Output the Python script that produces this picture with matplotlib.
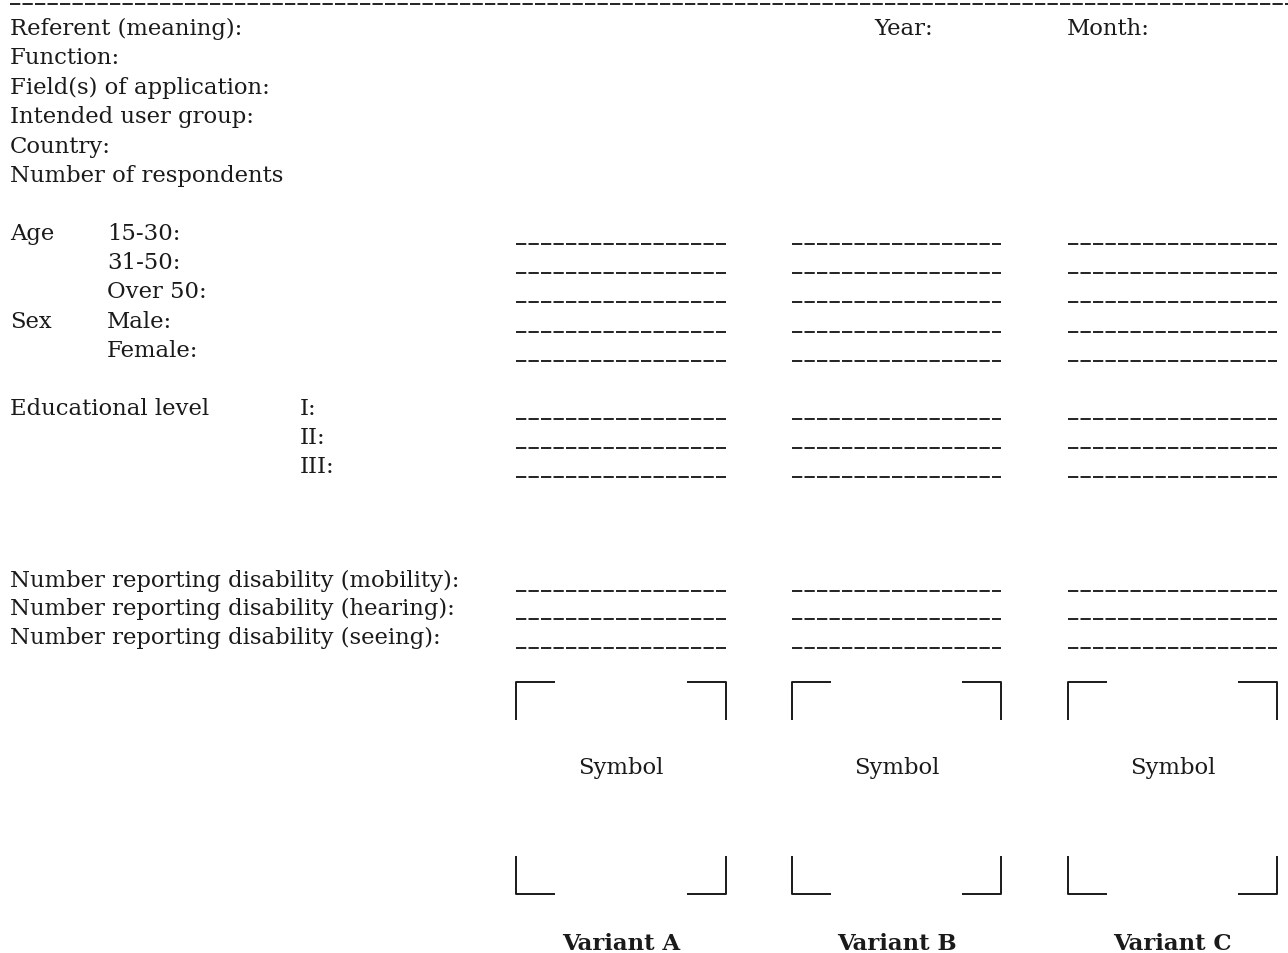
import matplotlib
matplotlib.use("Agg")
import matplotlib.pyplot as plt

plt.rcParams['lines.scale_dashes'] = False

FONT = 'DejaVu Serif'
FS = 16.4

header_labels = ["Referent (meaning):", "Function:", "Field(s) of application:",
                 "Intended user group:", "Country:", "Number of respondents"]
date_labels = ["Year:", "Month:"]
age_groups = ["15-30:", "31-50:", "Over 50:"]
sex_groups = ["Male:", "Female:"]
edu_levels = ["I:", "II:", "III:"]
disability_labels = ["Number reporting disability (mobility):",
                     "Number reporting disability (hearing):",
                     "Number reporting disability (seeing):"]
variants = ["Variant A", "Variant B", "Variant C"]
symbol_label = "Symbol"

W, H = 1288, 954
fig = plt.figure(figsize=(W / 100, H / 100), dpi=100)
ax = fig.add_axes([0, 0, 1, 1])
ax.set_xlim(0, W)
ax.set_ylim(H, 0)
ax.axis('off')

def txt(x, y, s, **kw):
    ax.text(x, y + 1, s, fontsize=kw.pop('fs', FS), family=FONT, va='center',
            ha=kw.pop('ha', 'left'), color='#1a1a1a', **kw)

def blank(x0, x1, y):
    ln, = ax.plot([x0, x1], [y, y], color='#222222', lw=1.4)
    ln.set_dashes((7.4, 1.6))

# top rule
blank(10, 1288, 5)

# header
for i, s in enumerate(header_labels):
    txt(10, 28 + i * 29.4, s)
txt(874, 28, date_labels[0])
txt(1067, 28, date_labels[1])

col_x = [(516, 726), (792, 1001), (1068, 1277)]

def blanks_row(y):
    for x0, x1 in col_x:
        blank(x0, x1, y + 12)

# Age / Sex
y_rows = [233, 262, 291, 321, 350]
txt(10, y_rows[0], "Age")
txt(10, y_rows[3], "Sex")
for s, y in zip(age_groups + sex_groups, y_rows):
    txt(107, y, s)
    blanks_row(y)

# Education
edu_y = [408, 437, 466]
txt(10, edu_y[0], "Educational level")
for s, y in zip(edu_levels, edu_y):
    txt(300, y, s)
    blanks_row(y)

# Disability
dis_y = [580, 608, 637]
for s, y in zip(disability_labels, dis_y):
    txt(10, y, s)
    blanks_row(y)

# symbol frames
top, bot = 683, 895
arm_h, arm_v = 39, 38
for (x0, x1), name in zip(col_x, variants):
    kw = dict(color='#1a1a1a', lw=1.4, solid_capstyle='butt')
    ax.plot([x0, x0, x0 + arm_h], [top + arm_v, top, top], **kw)
    ax.plot([x1 - arm_h, x1, x1], [top, top, top + arm_v], **kw)
    ax.plot([x0, x0, x0 + arm_h], [bot - arm_v, bot, bot], **kw)
    ax.plot([x1 - arm_h, x1, x1], [bot, bot, bot - arm_v], **kw)
    cx = (x0 + x1) / 2
    txt(cx, 767, symbol_label, ha='center')
    txt(cx, 943, name, ha='center', fontweight='bold', fs=FS)

fig.savefig("out.png", dpi=100)
